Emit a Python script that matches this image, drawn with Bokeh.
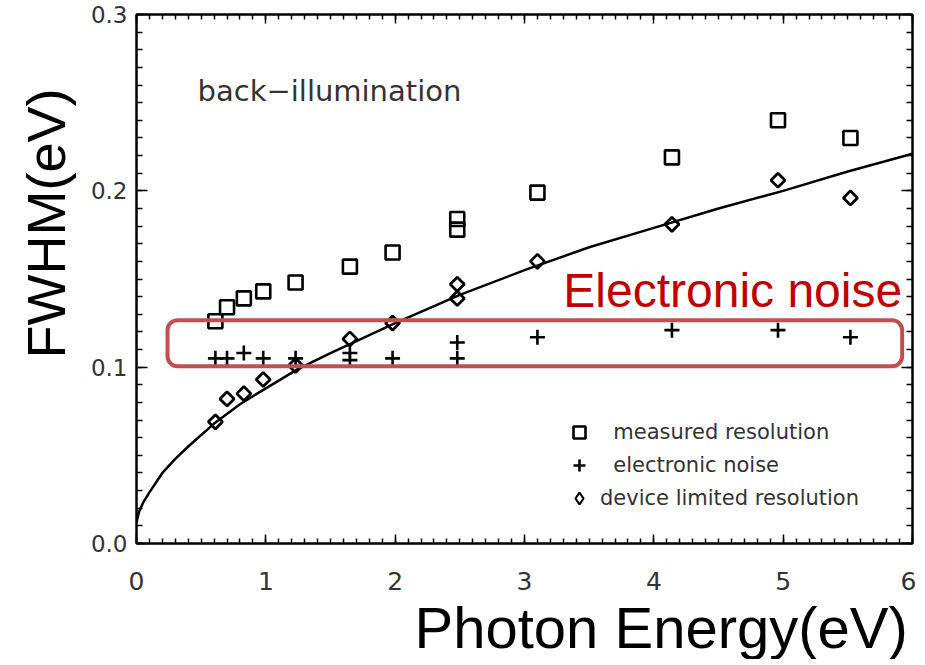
import math
from bokeh.plotting import figure
from bokeh.models import (Range1d, LinearAxis, FixedTicker, BoxAnnotation, Label, Title,
                          Legend, LegendItem, CustomJSTickFormatter)
from bokeh.embed import file_html
from bokeh.resources import INLINE

# ---- data ----
meas_x = [0.61, 0.70, 0.83, 0.98, 1.23, 1.65, 1.98, 2.48, 2.48, 3.10, 4.14, 4.96, 5.52]
meas_y = [0.126, 0.134, 0.139, 0.143, 0.148, 0.157, 0.165, 0.184, 0.178, 0.199, 0.219, 0.240, 0.230]

noise_x = [0.61, 0.70, 0.83, 0.98, 1.23, 1.65, 1.65, 1.98, 2.48, 2.48, 3.10, 4.14, 4.96, 5.52]
noise_y = [0.105, 0.105, 0.108, 0.105, 0.105, 0.108, 0.104, 0.105, 0.114, 0.105, 0.117, 0.121, 0.121, 0.117]

dev_x = [0.61, 0.70, 0.83, 0.98, 1.23, 1.65, 1.98, 2.48, 2.48, 3.10, 4.14, 4.96, 5.52]
dev_y = [0.069, 0.082, 0.085, 0.093, 0.101, 0.116, 0.125, 0.147, 0.139, 0.160, 0.181, 0.206, 0.196]

curve_x = [0.0, 0.02, 0.05, 0.1, 0.2, 0.3, 0.4, 0.6, 0.8, 1.0, 1.25, 1.5, 2.0, 2.5,
           3.0, 3.5, 4.0, 4.5, 5.0, 5.5, 6.0]
curve_y = [0.012, 0.018, 0.023, 0.029, 0.040, 0.048, 0.055, 0.068, 0.079, 0.088, 0.099,
           0.108, 0.125, 0.141, 0.155, 0.168, 0.179, 0.190, 0.200, 0.211, 0.221]

x_ticks = [0, 1, 2, 3, 4, 5, 6]
y_ticks = [0.0, 0.1, 0.2, 0.3]
y_tick_labels = {0.0: "0.0", 0.1: "0.1", 0.2: "0.2", 0.3: "0.3"}

legend_labels = ["\u00a0\u00a0measured resolution", "\u00a0\u00a0electronic noise",
                 "device limited resolution"]

TICK_FONT = "DejaVu Sans"

p = figure(frame_width=776, frame_height=529,
           x_range=Range1d(0, 6), y_range=Range1d(0, 0.3),
           output_backend="svg", toolbar_location=None,
           min_border_left=136, min_border_right=4, min_border_top=14, min_border_bottom=10,
           background_fill_color="white", border_fill_color="white")
p.xgrid.visible = False
p.ygrid.visible = False
p.outline_line_color = "black"
p.outline_line_width = 2

x_minor = [i * 0.1 for i in range(0, 61)]
y_minor = [i * 0.01 for i in range(0, 31)]

def style_axis(ax, ticks, minor, major_len, minor_len):
    ax.ticker = FixedTicker(ticks=ticks, minor_ticks=minor)
    ax.axis_line_color = "black"
    ax.axis_line_width = 2
    ax.major_tick_in = major_len
    ax.major_tick_out = 0
    ax.minor_tick_in = minor_len
    ax.minor_tick_out = 0
    ax.major_tick_line_width = 1.5
    ax.minor_tick_line_width = 1.5
    ax.major_tick_line_color = "black"
    ax.minor_tick_line_color = "black"

xa = p.xaxis[0]
style_axis(xa, x_ticks, x_minor, 9, 5)
xa.major_label_text_font = TICK_FONT
xa.major_label_text_font_size = "25px"
xa.major_label_text_color = "#333333"
xa.major_label_standoff = 28

ya = p.yaxis[0]
style_axis(ya, y_ticks, y_minor, 11, 6)
ya.major_label_overrides = y_tick_labels
ya.major_label_text_font = TICK_FONT
ya.major_label_text_font_size = "23px"
ya.major_label_text_color = "#333333"
ya.major_label_standoff = 9

top = LinearAxis(formatter=CustomJSTickFormatter(code="return ''"), major_label_standoff=0)
style_axis(top, x_ticks, x_minor, 9, 5)
p.add_layout(top, "above")
right = LinearAxis(formatter=CustomJSTickFormatter(code="return ''"), major_label_standoff=0)
style_axis(right, y_ticks, y_minor, 11, 6)
p.add_layout(right, "right")

# fitted curve
p.line(curve_x, curve_y, line_color="black", line_width=2.5)

# markers
r_sq = p.scatter(meas_x, meas_y, marker="square", size=14, fill_color=None,
                 line_color="black", line_width=2.6)
r_pl = p.scatter(noise_x, noise_y, marker="cross", size=15,
                 line_color="black", line_width=2.6)
r_di = p.scatter(dev_x, dev_y, marker="square", angle=math.pi / 4, size=10, fill_color=None,
                 line_color="black", line_width=2.8)
# hidden twin of the diamond series, used only for its legend swatch
r_di_key = p.scatter(dev_x, dev_y, marker="diamond", size=14, fill_color=None,
                     line_color="black", line_width=2.2, visible=False)

legend = Legend(items=[LegendItem(label=legend_labels[0], renderers=[r_sq]),
                       LegendItem(label=legend_labels[1], renderers=[r_pl]),
                       LegendItem(label=legend_labels[2], renderers=[r_di_key])],
                location=(428, 30), orientation="vertical",
                glyph_width=30, glyph_height=30, spacing=3, padding=0, margin=0,
                label_standoff=6, label_text_font=TICK_FONT, label_text_font_size="21px",
                label_text_color="#333333", label_height=30,
                inactive_fill_alpha=0,
                background_fill_alpha=0, border_line_alpha=0)
p.add_layout(legend, "center")

# annotations
p.add_layout(BoxAnnotation(left=0.24, right=5.92, bottom=0.1005, top=0.1266,
                           fill_color=None, fill_alpha=0, line_color="#C0504D",
                           line_alpha=1.0, line_width=4, border_radius=10))

p.add_layout(Label(x=3.30, y=0.1436, text="Electronic noise", text_font="Liberation Sans",
                   text_font_size="48px", text_color="#C00000", text_baseline="alphabetic"))

p.add_layout(Label(x=0.472, y=0.2567, text="back\u2212illumination", text_font=TICK_FONT,
                   text_font_size="29px", text_color="#333333", text_baseline="alphabetic"))

p.add_layout(Title(text="FWHM(eV)", align="left", offset=185, standoff=23,
                   text_font="Liberation Sans", text_font_size="54px",
                   text_font_style="normal", text_color="black"), "left")

p.add_layout(Title(text="Photon Energy(eV)", align="left", offset=278, standoff=0,
                   text_font="Liberation Sans", text_font_size="58px",
                   text_font_style="normal", text_color="black"), "below")

open("out.html", "w").write(file_html(p, INLINE))
